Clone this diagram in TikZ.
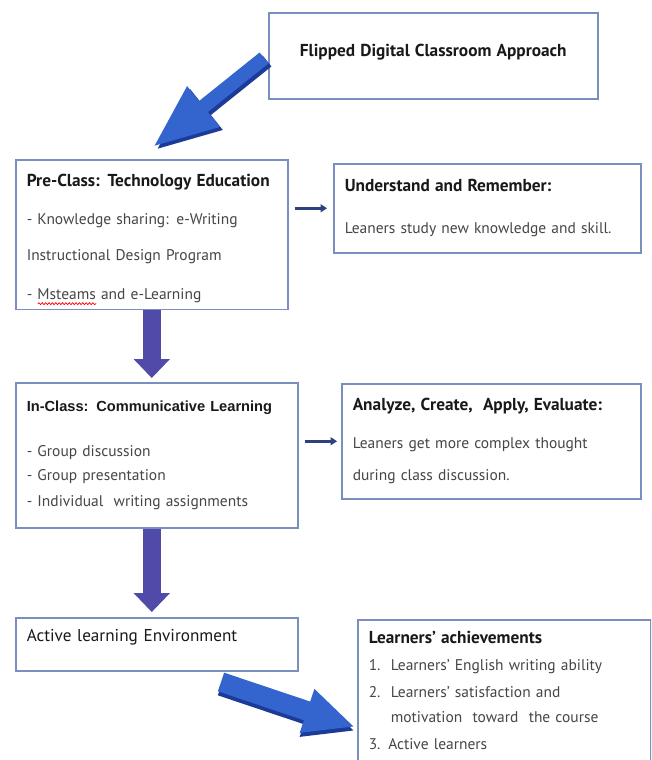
\documentclass[tikz,border=0pt]{standalone}
\usepackage{fontspec}
\setmainfont{PT Sans}
\newfontfamily\arialfont{Liberation Sans}
\usetikzlibrary{arrows.meta, positioning, decorations.pathmorphing}

\newdimen\pxu \pxu=0.025cm
\definecolor{boxline}{RGB}{122,142,192}
\definecolor{bodytext}{RGB}{70,70,70}
\definecolor{titletext}{RGB}{25,25,25}
\definecolor{flowpurple}{RGB}{80,74,168}
\definecolor{sidenavy}{RGB}{45,65,125}
\definecolor{bigblue}{RGB}{52,100,205}
\definecolor{bigshade}{RGB}{28,58,152}

% red spell-check wave under a word
\newcommand\spellwave[1]{\setbox0=\hbox{#1}\rlap{\tikz[baseline=0pt, x=1cm, y=1cm]
    \draw[red, fill=none, line width=0.5pt, decorate, decoration={snake, amplitude=0.7pt, segment length=2.4pt}]
      (0pt,-3pt) -- (\wd0,-3pt);}\box0\relax}
\newcommand\titlefont{\bfseries\fontsize{12.3}{14}\selectfont\color{titletext}}

\tikzset{
    stepbox/.style={
        rectangle, draw=boxline, line width=1.1pt,
        anchor=north west, fill=white, align=left,
        inner xsep=11\pxu, text=bodytext,
        font=\fontsize{11}{14}\selectfont
    },
    flowarrow/.style={draw=flowpurple, line width=12.8pt, -{Triangle[width=25pt,length=13.5pt]}},
    sidearrow/.style={draw=sidenavy, line width=2pt, -{Triangle[width=5.5pt,length=4.5pt]}},
    bigarrow/.style={draw=bigblue},
    shadearrow/.style={draw=bigshade}
}

\begin{document}
\begin{tikzpicture}[x=0.025cm, y=-0.025cm]
\useasboundingbox (0,0) rectangle (651,760);
\clip (0,0) rectangle (651,760);

% Approach (top)
\node[stepbox, align=center, minimum width=329\pxu, minimum height=86\pxu,
      text width=307\pxu, text depth=8pt] (approach) at (268,12)
      {{\titlefont Flipped Digital Classroom Approach}};

% Pre-class
\node[stepbox, minimum width=272\pxu, minimum height=149\pxu, text width=250\pxu] (pre) at (15,159)
      {\rule{0pt}{16pt}{\titlefont Pre-Class: Technology Education}\\[13pt]
       - Knowledge sharing: e-Writing\\[11pt]
       Instructional Design Program\\[14pt]
       - \spellwave{Msteams} and e-Learning};

\node[stepbox, minimum width=307\pxu, minimum height=89\pxu, text width=285\pxu] (understand) at (333,163)
      {{\titlefont Understand and Remember:}\\[16pt]
       Leaners study new knowledge and skill.};

% In-class
\node[stepbox, minimum width=282\pxu, minimum height=145\pxu, text width=260\pxu] (inclass) at (15,382)
      {{\arialfont\bfseries\fontsize{10.4}{14}\selectfont\color{titletext} In-Class: Communicative Learning}\\[18pt]
       - Group discussion\\[3pt]
       - Group presentation\\[4.5pt]
       - Individual\ \ writing assignments};

\node[stepbox, minimum width=299\pxu, minimum height=115\pxu, text width=277\pxu] (analyze) at (341,383)
      {{\titlefont Analyze, Create,\ \ Apply, Evaluate:}\\[13pt]
       Leaners get more complex thought\\[9pt]
       during class discussion.};

% Environment and achievements
\node[stepbox, minimum width=282\pxu, minimum height=53\pxu, text width=260\pxu,
      text depth=13pt, text=titletext, font=\fontsize{12.2}{14}\selectfont] (environment) at (15,617)
      {Active learning Environment};

\node[stepbox, minimum width=293\pxu, minimum height=142\pxu, text width=271\pxu] (achieve) at (357,619)
      {{\titlefont Learners' achievements}\\[5pt]
       1.\ \ Learners' English writing ability\\[5pt]
       2.\ \ Learners' satisfaction and\\[3.7pt]
       \hphantom{2.\ \ }motivation\ \ toward\ \ the course\\[5.8pt]
       3. Active learners};

% Connections
\coordinate (approachtail) at (264,58);
\coordinate (pretip) at (153,147);
\draw[shadearrow, line width=10pt, -{Triangle[width=34pt,length=46pt]}]
      ([shift={(3,3)}]approachtail) -- ([shift={(3,3)}]pretip);
\draw[bigarrow, line width=10pt, -{Triangle[width=34pt,length=46pt]}]
      (approachtail) -- (pretip);

\draw[sidearrow, shorten <=4.25pt, shorten >=4.25pt] (pre.east |- understand.west) -- (understand.west);
\draw[sidearrow, shorten <=4.25pt, shorten >=2.8pt] (inclass.east |- analyze.west) -- (analyze.west);

\draw[flowarrow, shorten >=2.8pt] (pre.south) -- (inclass.north -| pre.south);
\draw[flowarrow, shorten >=3.5pt] (inclass.south -| pre.south) -- (environment.north -| pre.south);

\coordinate (envtail) at (221,682);
\coordinate (achtip) at (355,727);
\draw[shadearrow, line width=14pt, -{Triangle[width=30pt,length=36pt]}]
      ([shift={(0,4)}]envtail) -- ([shift={(0,4)}]achtip);
\draw[bigarrow, line width=14pt, -{Triangle[width=30pt,length=36pt]}]
      (envtail) -- (achtip);

\end{tikzpicture}
\end{document}
